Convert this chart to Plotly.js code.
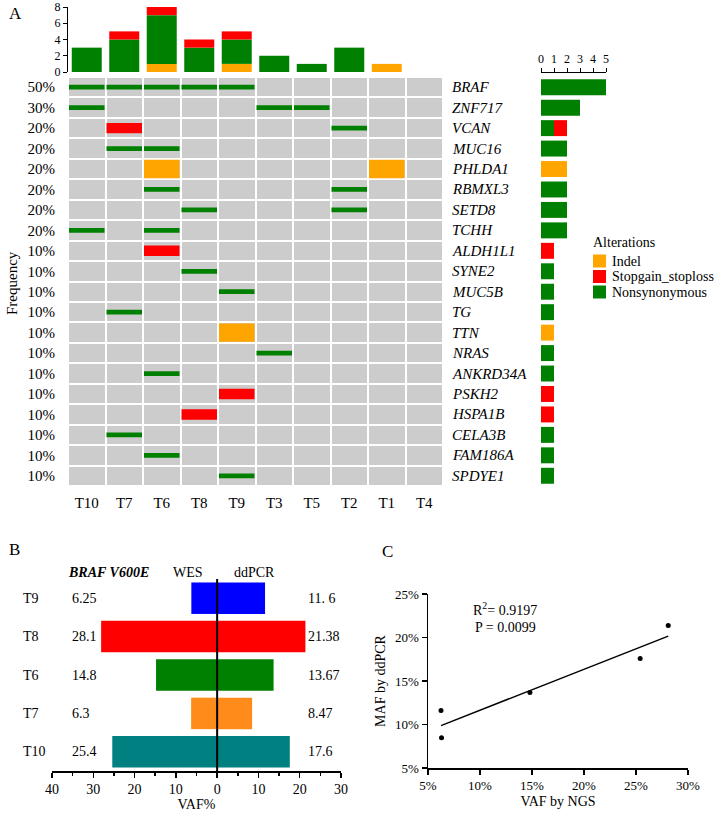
<!DOCTYPE html>
<html><head><meta charset="utf-8">
<script src="https://cdn.plot.ly/plotly-3.0.1.min.js"></script>
<style>html,body{margin:0;padding:0;background:#fff}#chart{width:716px;height:813px}</style>
</head><body><div id="chart"></div>
<script>
// ---------- Panel A data ----------
const samples = ['T10','T7','T6','T8','T9','T3','T5','T2','T1','T4'];
const genes = ['BRAF','ZNF717','VCAN','MUC16','PHLDA1','RBMXL3','SETD8','TCHH','ALDH1L1','SYNE2',
               'MUC5B','TG','TTN','NRAS','ANKRD34A','PSKH2','HSPA1B','CELA3B','FAM186A','SPDYE1'];
const freqLabels = ['50%','30%','20%','20%','20%','20%','20%','20%','10%','10%',
                    '10%','10%','10%','10%','10%','10%','10%','10%','10%','10%'];
const indelCells = [['PHLDA1','T6'],['PHLDA1','T1'],['TTN','T9']];
const stopgainCells = [['VCAN','T7'],['ALDH1L1','T6'],['PSKH2','T9'],['HSPA1B','T8']];
const nonsynCells = [['BRAF','T10'],['BRAF','T7'],['BRAF','T6'],['BRAF','T8'],['BRAF','T9'],
  ['ZNF717','T10'],['ZNF717','T3'],['ZNF717','T5'],['VCAN','T2'],['MUC16','T7'],['MUC16','T6'],
  ['RBMXL3','T6'],['RBMXL3','T2'],['SETD8','T8'],['SETD8','T2'],['TCHH','T10'],['TCHH','T6'],
  ['SYNE2','T8'],['MUC5B','T9'],['TG','T7'],['NRAS','T3'],['ANKRD34A','T6'],['CELA3B','T7'],
  ['FAM186A','T6'],['SPDYE1','T9']];
const altNames = ['Indel','Stopgain_stoploss','Nonsynonymous'];   // legend order
const stackOrder = ['Indel','Nonsynonymous','Stopgain_stoploss']; // stacking order
const topTicks = [0,2,4,6,8];
const rightTicks = [0,1,2,3,4,5];

// ---------- Panel B / C data ----------
const vafSamples = ['T10','T7','T6','T8','T9'];          // bottom -> top
const wesVAF   = [25.4, 6.3, 14.8, 28.1, 6.25];
const ddpcrVAF = [17.6, 8.47, 13.67, 21.38, 11.6];
const wesLabels   = ['25.4','6.3','14.8','28.1','6.25'];
const ddpcrLabels = ['17.6','8.47','13.67','21.38','11. 6'];
const bTickVals = [-40,-30,-20,-10,0,10,20,30];
const bTickText = ['40','30','20','10','0','10','20','30'];
const pLabel = 'P = 0.0099';

// ---------- styles ----------
const altColors = {Indel:'#ffa500', Stopgain_stoploss:'#ff0000', Nonsynonymous:'#008000'};
const vafColors = ['#008080','#ff8c1a','#008000','#ff0000','#0000ff'];
const W = 716, H = 813;
const X = p => p / W, Y = p => 1 - p / H;
const FONT = 'Liberation Serif';

const gi = g => genes.indexOf(g), si = s => samples.indexOf(s);
const cellSets = {Indel: indelCells, Stopgain_stoploss: stopgainCells, Nonsynonymous: nonsynCells};
const cellHeight = {Indel: 0.9, Stopgain_stoploss: 0.51, Nonsynonymous: 0.23};

const traces = [];
// gray background grid
const zGrid = genes.map(() => samples.map(() => 1));
traces.push({type:'heatmap', x: samples.map((s,i)=>i), y: genes.map((g,i)=>i), z: zGrid,
  colorscale:[[0,'#cccccc'],[1,'#cccccc']], zmin:0, zmax:1, showscale:false,
  xgap:2, ygap:2, hoverinfo:'skip', xaxis:'x', yaxis:'y'});
// oncoprint cells
altNames.forEach(a => {
  const cells = cellSets[a], h = cellHeight[a];
  traces.push({type:'bar', x: cells.map(c=>si(c[1])), y: cells.map(()=>h),
    base: cells.map(c=>gi(c[0]) - h/2), width: 0.947, marker:{color: altColors[a]},
    showlegend:false, hoverinfo:'skip', xaxis:'x', yaxis:'y'});
});
// top stacked bars (per sample)
const baseS = samples.map(()=>0);
stackOrder.forEach(a => {
  const cnt = samples.map(s => cellSets[a].filter(c=>c[1]===s).length);
  traces.push({type:'bar', x: samples.map((s,i)=>i), y: cnt, base: baseS.slice(), width:0.8,
    marker:{color: altColors[a]}, showlegend:false, hoverinfo:'skip', xaxis:'x2', yaxis:'y2'});
  cnt.forEach((c,i)=>baseS[i]+=c);
});
// right stacked bars (per gene)
const baseG = genes.map(()=>0);
stackOrder.forEach(a => {
  const cnt = genes.map(g => cellSets[a].filter(c=>c[0]===g).length);
  traces.push({type:'bar', orientation:'h', y: genes.map((g,i)=>i), x: cnt, base: baseG.slice(), width:0.78,
    marker:{color: altColors[a]}, showlegend:false, hoverinfo:'skip', xaxis:'x3', yaxis:'y3'});
  cnt.forEach((c,i)=>baseG[i]+=c);
});
// Panel B bars
const vIdx = vafSamples.map((s,i)=>i);
traces.push({type:'bar', orientation:'h', y: vIdx, x: wesVAF.map(v=>-v), width:0.82,
  marker:{color: vafColors}, showlegend:false, hoverinfo:'skip', xaxis:'x4', yaxis:'y4'});
traces.push({type:'bar', orientation:'h', y: vIdx, x: ddpcrVAF, width:0.82,
  marker:{color: vafColors}, showlegend:false, hoverinfo:'skip', xaxis:'x4', yaxis:'y4'});
// Panel C scatter + regression
const n = wesVAF.length;
const mx = wesVAF.reduce((a,b)=>a+b)/n, my = ddpcrVAF.reduce((a,b)=>a+b)/n;
let sxy=0, sxx=0, syy=0;
for (let i=0;i<n;i++){ sxy+=(wesVAF[i]-mx)*(ddpcrVAF[i]-my); sxx+=(wesVAF[i]-mx)**2; syy+=(ddpcrVAF[i]-my)**2; }
const slope = sxy/sxx, icpt = my - slope*mx, r2 = sxy*sxy/(sxx*syy);
const xmin = Math.min(...wesVAF), xmax = Math.max(...wesVAF);
traces.push({type:'scatter', mode:'lines', x:[xmin,xmax], y:[icpt+slope*xmin, icpt+slope*xmax],
  line:{color:'#000', width:1.5}, showlegend:false, hoverinfo:'skip', xaxis:'x5', yaxis:'y5'});
traces.push({type:'scatter', mode:'markers', x: wesVAF, y: ddpcrVAF, marker:{color:'#000', size:5},
  showlegend:false, hoverinfo:'skip', xaxis:'x5', yaxis:'y5', cliponaxis:false});

const noGrid = {showgrid:false, zeroline:false, fixedrange:true};
const layout = {
  width: W, height: H, margin:{l:0,r:0,t:0,b:0}, paper_bgcolor:'#fff', plot_bgcolor:'rgba(0,0,0,0)',
  font:{family: FONT, color:'#000', size:14}, barmode:'overlay', showlegend:false,
  xaxis: Object.assign({domain:[X(68),X(443)], range:[-0.5,9.5], anchor:'y', tickmode:'array',
    tickvals: samples.map((s,i)=>i), ticktext: samples, ticks:'', showline:false,
    ticklabelstandoff: 6, tickfont:{size:15}}, noGrid),
  yaxis: Object.assign({domain:[Y(486),Y(77)], range:[19.5,-0.5], anchor:'x', tickmode:'array',
    tickvals: genes.map((g,i)=>i), ticktext: freqLabels, ticks:'', showline:false,
    ticklabelstandoff: 12, tickfont:{size:15}}, noGrid),
  xaxis2: Object.assign({domain:[X(68),X(443)], range:[-0.5,9.5], anchor:'y2', visible:false}, noGrid),
  yaxis2: Object.assign({domain:[Y(72),Y(7)], range:[0,8], anchor:'x2', tickmode:'array', tickvals: topTicks,
    showline:true, linecolor:'#000', linewidth:1, ticks:'outside', ticklen:4, tickcolor:'#000',
    tickfont:{size:12}}, noGrid),
  xaxis3: Object.assign({domain:[X(541),X(606)], range:[0,5], side:'top', anchor:'free', position: Y(72),
    tickmode:'array', tickvals: rightTicks, showline:true, linecolor:'#000', linewidth:1,
    ticks:'outside', ticklen:4, tickcolor:'#000', tickfont:{size:12}}, noGrid),
  yaxis3: Object.assign({domain:[Y(486),Y(77)], range:[19.5,-0.5], anchor:'x3', visible:false}, noGrid),
  xaxis4: Object.assign({domain:[X(52),X(341)], range:[-40,30], anchor:'y4', tickmode:'array',
    tickvals: bTickVals, ticktext: bTickText, showline:true, linecolor:'#000', linewidth:1.5,
    ticks:'outside', ticklen:5, tickwidth:1.5, tickcolor:'#000', tickfont:{size:14},
    minor:{tickmode:'array', tickvals: bTickVals.slice(0,-1).map(v=>v+5), ticks:'outside', ticklen:3, tickwidth:1.5, tickcolor:'#000'},
    title:{text:'VAF%', font:{size:14}, standoff:2}}, noGrid),
  yaxis4: Object.assign({domain:[Y(771),Y(579)], range:[-0.5,4.5], anchor:'x4', visible:false}, noGrid),
  xaxis5: Object.assign({domain:[X(428),X(688)], range:[5,30], anchor:'y5', tickmode:'linear', tick0:5, dtick:5,
    ticksuffix:'%', showline:true, linecolor:'#000', linewidth:1.5, ticks:'outside', ticklen:5,
    tickwidth:1.5, tickcolor:'#000', tickfont:{size:13}, title:{text:'VAF by NGS', font:{size:14}, standoff:4}}, noGrid),
  yaxis5: Object.assign({domain:[Y(768),Y(594)], range:[5,25], anchor:'x5', tickmode:'linear', tick0:5, dtick:5,
    ticksuffix:'%', showline:true, linecolor:'#000', linewidth:1.5, ticks:'outside', ticklen:5,
    tickwidth:1.5, tickcolor:'#000', tickfont:{size:13}, title:{text:'MAF by ddPCR', font:{size:14}, standoff:6}}, noGrid),
  shapes: [
    {type:'line', xref:'x4', yref:'y4 domain', x0:0, x1:0, y0:0, y1:1, line:{color:'#000', width:2}},
  ],
  annotations: []
};
const ann = layout.annotations;
const txt = (text, x, y, opts) => ann.push(Object.assign({text, x, y, xref:'paper', yref:'paper',
  showarrow:false, xanchor:'left', yanchor:'middle', font:{size:14}}, opts||{}));
// panel letters
txt('A', X(7), Y(13), {font:{size:17}});
txt('B', X(7), Y(549), {font:{size:17}});
txt('C', X(380), Y(551), {font:{size:17}});
// Frequency
txt('Frequency', X(12), Y(283), {xanchor:'center', textangle:-90, font:{size:15}});
// gene names
genes.forEach((g,i) => txt('<i>'+g+'</i>', X(450), i, {yref:'y', font:{size:15}}));
// legend
txt('Alterations', X(591), Y(243), {font:{size:14}});
altNames.forEach((a,k) => {
  const yc = 261 + k*15.5;
  layout.shapes.push({type:'rect', xref:'paper', yref:'paper', x0:X(593), x1:X(606), y0:Y(yc-6.5), y1:Y(yc+6.5),
    fillcolor: altColors[a], line:{width:0}});
  txt(a, X(610), Y(yc), {font:{size:14}});
});
// panel B labels
vafSamples.forEach((s,i) => {
  txt(s, X(21), i, {yref:'y4'});
  txt(wesLabels[i], X(70), i, {yref:'y4'});
  txt(ddpcrLabels[i], X(306), i, {yref:'y4'});
});
txt('<b><i>BRAF V600E</i></b>', X(66), Y(572));
txt('WES', X(171), Y(572));
txt('ddPCR', X(232), Y(572));
// panel C stats
txt('R<sup>2</sup>= ' + r2.toFixed(4), X(471), Y(609));
txt(pLabel, X(473), Y(627));

Plotly.newPlot('chart', traces, layout, {staticPlot:true});
</script></body></html>
